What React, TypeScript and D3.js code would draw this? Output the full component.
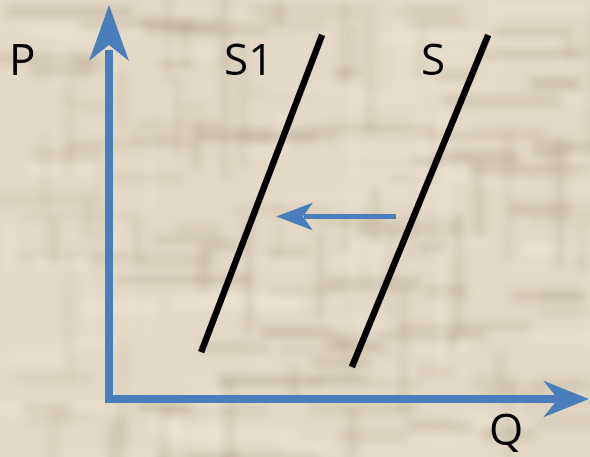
import React from "react";
import * as d3 from "d3";

// supply curves in (Q, P) units
const supplyNames = ["S1", "S"];
const supplyOld = [
  { q: 5.06, p: 0.81 },
  { q: 7.9, p: 9.24 },
];
const supplyNew = [
  { q: 1.92, p: 1.19 },
  { q: 4.44, p: 9.24 },
];
// leftward shift arrow
const shiftFrom = { q: 5.98, p: 4.63 };
const shiftTo = { q: 3.48, p: 4.63 };
const axisLabels = ["P", "Q"];

const W = 590;
const H = 457;
const BLUE = "#4a7ebb";

// decorative paper texture (not data)
const hash = (i: number, s: number) => {
  const v = Math.sin(i * 127.1 + s * 311.7) * 43758.5453;
  return v - Math.floor(v);
};
const hBands = d3.range(160).map((i) => ({
  y: hash(i, 1) * H,
  h: 5 + hash(i, 2) * 9,
  x: hash(i, 3) * W - 30,
  w: 25 + hash(i, 4) * 110,
  dark: hash(i, 5) > 0.45,
  o: 0.12 + hash(i, 6) * 0.22,
}));
const vBands = d3.range(90).map((i) => ({
  x: hash(i, 7) * W,
  w: 5 + hash(i, 8) * 8,
  y: hash(i, 9) * H - 30,
  h: 25 + hash(i, 10) * 110,
  dark: hash(i, 11) > 0.5,
  o: 0.08 + hash(i, 12) * 0.18,
}));

function head(tip: [number, number], dir: [number, number], len: number, half: number, notch: number) {
  const [tx, ty] = tip;
  const [dx, dy] = dir;
  const nx = -dy;
  const ny = dx;
  const bx = tx - dx * len;
  const by = ty - dy * len;
  const pts = [
    [tx, ty],
    [bx + nx * half, by + ny * half],
    [tx - dx * (len - notch), ty - dy * (len - notch)],
    [bx - nx * half, by - ny * half],
  ];
  return "M" + pts.map((p) => p.join(",")).join("L") + "Z";
}

export default function App() {
  const x = d3.scaleLinear().domain([0, 10]).range([109, 589]);
  const y = d3.scaleLinear().domain([0, 10]).range([399, 5]);
  const ln = d3
    .line<{ q: number; p: number }>()
    .x((d) => x(d.q))
    .y((d) => y(d.p));

  const x0 = x(0);
  const y0 = y(0);
  const yTop = y(10);
  const xEnd = x(10);

  return (
    <svg width={W} height={H} style={{ position: "absolute", left: 0, top: 0 }}>
      <defs>
        <filter id="blur" x="-10%" y="-10%" width="120%" height="120%">
          <feGaussianBlur stdDeviation="4.5" />
        </filter>
      </defs>
      <rect width={W} height={H} fill="#e3d9c6" />
      <g filter="url(#blur)">
        {hBands.map((b, i) => (
          <rect key={"h" + i} x={b.x} y={b.y} width={b.w} height={b.h} fill={b.dark ? "#a39276" : "#f7efdf"} opacity={b.o} />
        ))}
        {vBands.map((b, i) => (
          <rect key={"v" + i} x={b.x} y={b.y} width={b.w} height={b.h} fill={b.dark ? "#a39276" : "#f7efdf"} opacity={b.o} />
        ))}
      </g>

      {/* axes */}
      <line x1={x0} y1={y0 + 4} x2={x0} y2={yTop + 45} stroke={BLUE} strokeWidth={8} />
      <path d={head([x0, yTop], [0, -1], 56, 20, 16)} fill={BLUE} />
      <line x1={x0 - 4} y1={y0} x2={xEnd - 30} y2={y0} stroke={BLUE} strokeWidth={8} />
      <path d={head([xEnd, y0], [1, 0], 46, 18.5, 15)} fill={BLUE} />

      {/* supply curves */}
      <path d={ln(supplyNew) || ""} stroke="#000" strokeWidth={6.5} fill="none" />
      <path d={ln(supplyOld) || ""} stroke="#000" strokeWidth={6.5} fill="none" />

      {/* shift arrow */}
      <line x1={x(shiftFrom.q)} y1={y(shiftFrom.p)} x2={x(shiftTo.q) + 28} y2={y(shiftTo.p)} stroke={BLUE} strokeWidth={5} />
      <path d={head([x(shiftTo.q), y(shiftTo.p)], [-1, 0], 37, 14, 10)} fill={BLUE} />

      {/* labels */}
      <g fontFamily="'Open Sans', sans-serif" fontSize={44} fill="#000">
        <text x={9} y={75}>{axisLabels[0]}</text>
        <text x={224} y={75}>{supplyNames[0]}</text>
        <text x={421} y={75}>{supplyNames[1]}</text>
        <text x={489} y={445}>{axisLabels[1]}</text>
      </g>
    </svg>
  );
}
